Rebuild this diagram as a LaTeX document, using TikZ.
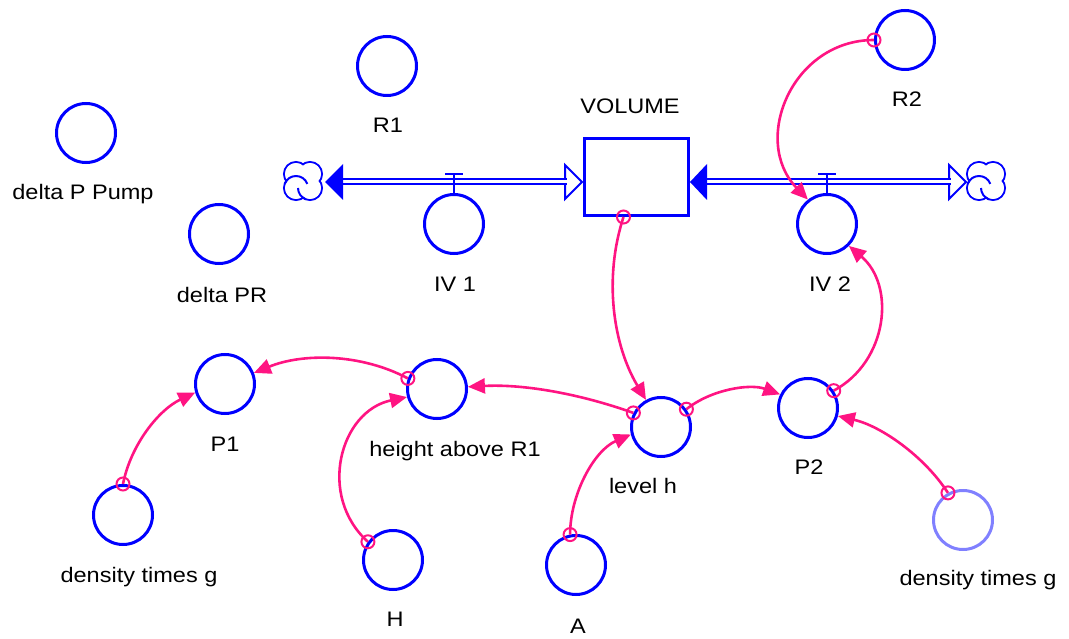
\documentclass[tikz,border=0pt]{standalone}
\usepackage{fontspec}
\setmainfont{Liberation Sans}[FakeStretch=1.12]
\usetikzlibrary{arrows.meta,calc}
\definecolor{sblue}{RGB}{0,0,255}
\definecolor{slink}{RGB}{255,20,130}
\definecolor{sfade}{RGB}{128,128,255}
\tikzset{
  var/.style={circle, draw=sblue, line width=3pt, minimum size=59pt, inner sep=0pt},
  lbl/.style={anchor=base, inner sep=0pt, font=\fontsize{21}{25}\selectfont, text=black},
  stock/.style={draw=sblue, line width=3pt, minimum width=104pt, minimum height=77pt, inner sep=0pt},
  link/.style={draw=slink, line width=2.6pt, -{Triangle[length=17pt,width=15pt]}},
  ring/.style={draw=slink, line width=2pt},
  pipe/.style={draw=sblue, line width=2pt, double=white, double distance=3pt},
  valvebar/.style={draw=sblue, line width=2pt},
  filledhead/.style={fill=sblue},
  openhead/.style={draw=sblue, line width=2pt, fill=white, line join=miter},
  flowcloud/.pic={
    \foreach \a/\b in {-7/-7, 7/-7, 7/7, -7/7}
      \draw[sblue, line width=2pt] (\a,\b) circle[radius=12pt];
    \foreach \a/\b in {-7/-7, 7/-7, 7/7, -7/7}
      \fill[white] (\a,\b) circle[radius=11pt];
    \draw[sblue, line width=2pt] (-18.3,2.9) .. controls (-14.5,-7.6) and (0.5,-7.6) .. (4.3,2.9);
    \draw[sblue, line width=2pt] (-5,7) .. controls (-5,12) and (-1.8,16.6) .. (2.9,18.3);
  }
}
\begin{document}
\begin{tikzpicture}[x=1pt,y=-1pt]
\useasboundingbox (0,0) rectangle (1069,639);

% stock
\node[stock] (vol) at (636.5,177) {};
\node[lbl] (voll) at (630,114) {VOLUME};

% clouds
\coordinate (cl) at (303,181);
\coordinate (cr) at (986,181);
\pic at (cl) {flowcloud};
\pic at (cr) {flowcloud};

% flow pipes
\coordinate (lftip) at (325,182);
\coordinate (lfbase) at (343,182);
\coordinate (lotip) at (582,182);
\coordinate (lobase) at (565,182);
\coordinate (rftip) at (690,182);
\coordinate (rfbase) at (707,182);
\coordinate (rotip) at (966,182);
\coordinate (robase) at (949,182);

\draw[openhead] (lotip) -- ($(lobase)+(0,-17)$) -- ($(lobase)+(0,17)$) -- cycle;
\draw[openhead] (rotip) -- ($(robase)+(0,-17)$) -- ($(robase)+(0,17)$) -- cycle;
\draw[pipe] ($(lfbase)+(-1,0)$) -- ($(lobase)+(2,0)$);
\draw[pipe] ($(rfbase)+(-1,0)$) -- ($(robase)+(2,0)$);
\fill[filledhead] (lftip) -- ($(lfbase)+(0,-18)$) -- ($(lfbase)+(0,18)$) -- cycle;
\fill[filledhead] (rftip) -- ($(rfbase)+(0,-18)$) -- ($(rfbase)+(0,18)$) -- cycle;

% variables
\node[var] (R1) at (387,66) {};
\node[lbl] (R1l) at (388,133) {R1};
\node[var] (dPP) at (86,133) {};
\node[lbl] (dPPl) at (83,200) {delta P Pump};
\node[var] (dPR) at (219,234) {};
\node[lbl] (dPRl) at (222,302) {delta PR};
\node[var] (iv1) at (454,224) {};
\node[lbl] (iv1l) at (455,291) {IV 1};
\node[var] (iv2) at (827,224) {};
\node[lbl] (iv2l) at (830,291) {IV 2};
\node[var] (R2) at (905,40) {};
\node[lbl] (R2l) at (907,107) {R2};
\node[var] (P1) at (225,384) {};
\node[lbl] (P1l) at (225,451) {P1};
\node[var] (hab) at (437,389) {};
\node[lbl] (habl) at (455,456) {height above R1};
\node[var] (lvl) at (661,427) {};
\node[lbl] (lvll) at (643,493) {level h};
\node[var] (P2) at (808,408) {};
\node[lbl] (P2l) at (809,474) {P2};
\node[var] (dtgL) at (123,515) {};
\node[lbl] (dtgLl) at (139,582) {density times g};
\node[var] (H) at (393,560) {};
\node[lbl] (Hl) at (395,626) {H};
\node[var] (A) at (576,565) {};
\node[lbl] (Al) at (578,633) {A};
\node[var, draw=sfade] (dtgR) at (963,520) {};
\node[lbl] (dtgRl) at (978,585) {density times g};

% valves
\coordinate (v1bar) at (454,174);
\coordinate (v2bar) at (827,174);
\draw[valvebar] ($(v1bar)+(-9,0)$) -- ($(v1bar)+(9,0)$);
\draw[valvebar] (v1bar) -- (iv1.north);
\draw[valvebar] ($(v2bar)+(-9,0)$) -- ($(v2bar)+(9,0)$);
\draw[valvebar] (v2bar) -- (iv2.north);

% links
\draw[link] (R2.180) .. controls +(-82,0) and +(-57,-59) .. (iv2.128);
\draw[ring] (R2.180) circle[radius=6.5pt];

\draw[link] (vol.252.6) .. controls +(-20,61) and +(-33,-55) .. (lvl.119);
\draw[ring] (vol.252.6) circle[radius=6.5pt];

\draw[link] (lvl.153) .. controls +(-53,-19) and +(56,-3) .. (hab.4);
\draw[ring] (lvl.153) circle[radius=6.5pt];

\draw[link] (hab.160) .. controls +(-47,-25) and +(49,-20) .. (P1.21);
\draw[ring] (hab.160) circle[radius=6.5pt];

\draw[link] (dtgL.90) .. controls +(8,-40) and +(-36,17) .. (P1.196);
\draw[ring] (dtgL.90) circle[radius=6.5pt];

\draw[link] (H.144) .. controls +(-51,-46) and +(-67,14) .. (hab.195);
\draw[ring] (H.144) circle[radius=6.5pt];

\draw[link] (A.101) .. controls +(0,-40) and +(-37,16) .. (lvl.194);
\draw[ring] (A.101) circle[radius=6.5pt];

\draw[link] (lvl.35) .. controls +(25,-20) and +(-30,-11) .. (P2.154);
\draw[ring] (lvl.35) circle[radius=6.5pt];

\draw[link] (P2.34) .. controls +(54,-29) and +(47,40) .. (iv2.315);
\draw[ring] (P2.34) circle[radius=6.5pt];

\draw[link] (dtgR.119) .. controls +(-24,-37) and +(43,10) .. (P2.345);
\draw[ring] (dtgR.119) circle[radius=6.5pt];
\end{tikzpicture}
\end{document}
